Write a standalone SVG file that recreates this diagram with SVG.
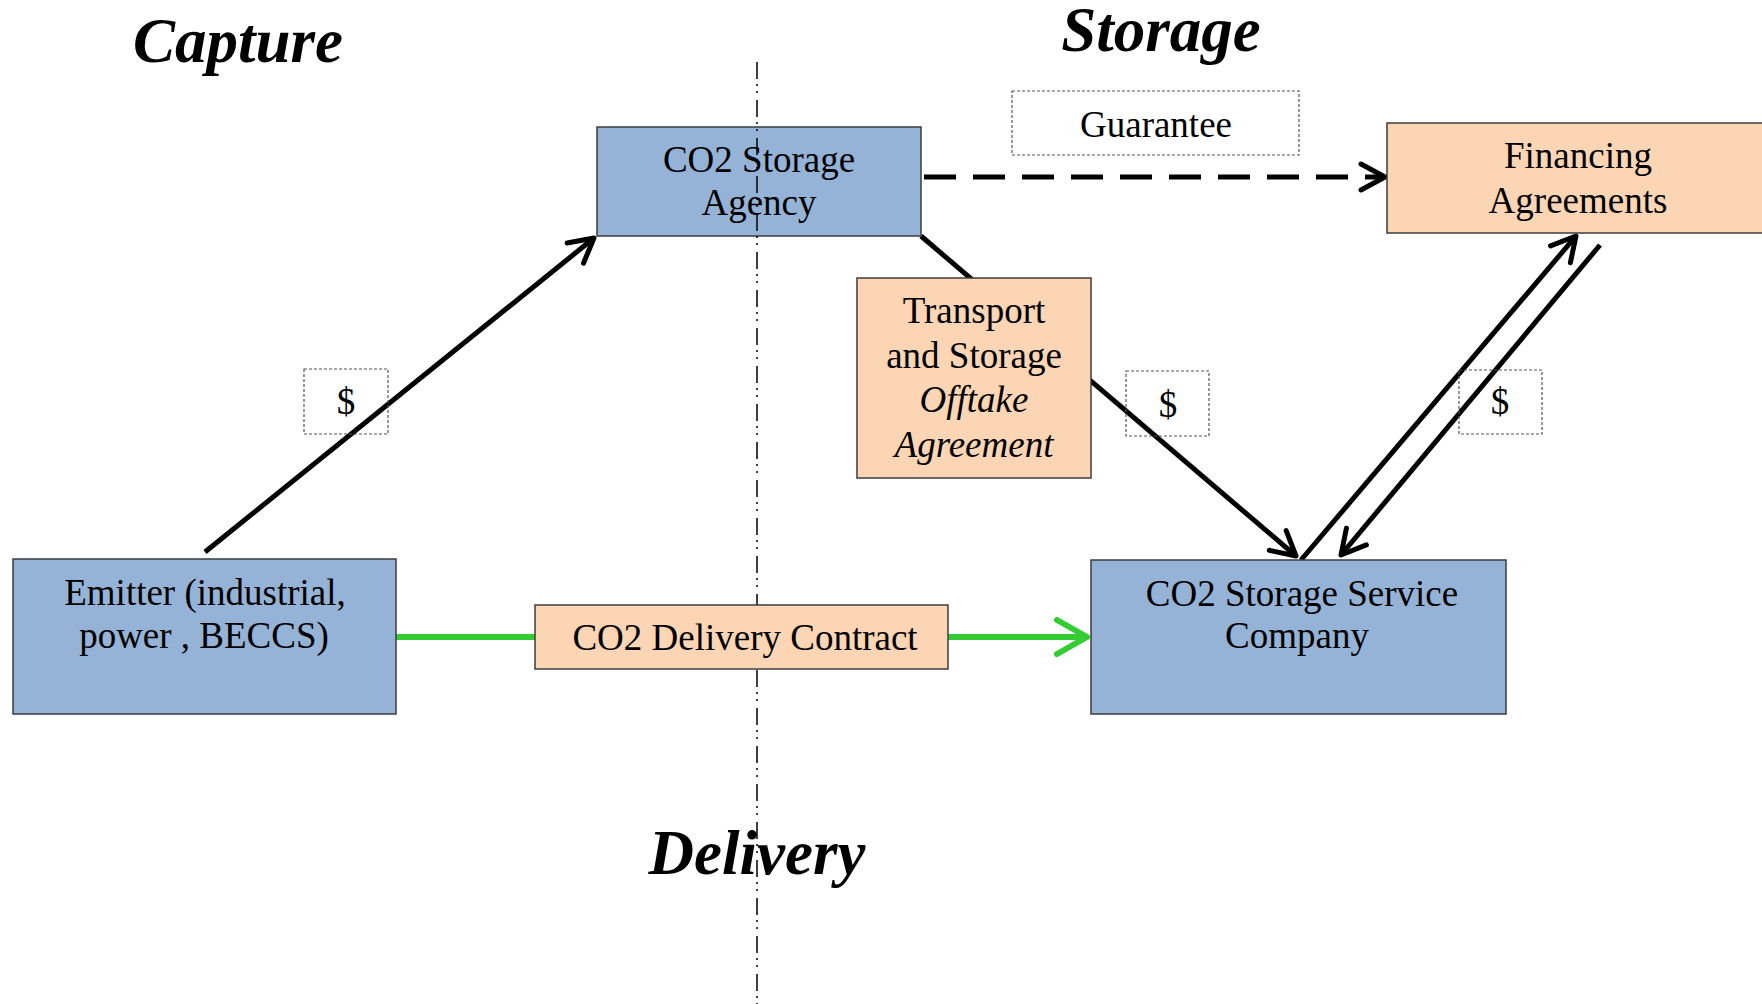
<svg xmlns="http://www.w3.org/2000/svg" width="1762" height="1004" viewBox="0 0 1762 1004">
<defs>
<style>
.t{font-family:"Liberation Serif","Times New Roman",serif;font-size:37px;fill:#000;text-anchor:middle}
.it{font-style:italic}
.title{font-family:"Liberation Serif","Times New Roman",serif;font-size:63px;font-weight:bold;font-style:italic;fill:#000;text-anchor:middle}
.blue{fill:#95B3D7;stroke:#3c3c3c;stroke-width:1.5}
.peach{fill:#FCD5B5;stroke:#3c3c3c;stroke-width:1.5}
.lbl{fill:none;stroke:#555;stroke-width:1.2;stroke-dasharray:3 2}
.blk{fill:none;stroke:#000;stroke-width:5}
.grn{fill:none;stroke:#33CC33;stroke-width:6}
.divider{fill:none;stroke:#000;stroke-width:1.5;stroke-dasharray:17 5 2 5 2 7}
</style>
<marker id="ah" markerUnits="userSpaceOnUse" markerWidth="40" markerHeight="40" refX="0" refY="0" viewBox="-30 -20 40 40" orient="auto" overflow="visible">
<path d="M-24 -13 L0 0 L-24 13" fill="none" stroke="#000" stroke-width="5" stroke-linecap="round" stroke-linejoin="round"/>
</marker>
<marker id="ahg" markerUnits="userSpaceOnUse" markerWidth="40" markerHeight="40" refX="0" refY="0" viewBox="-35 -20 40 40" orient="auto" overflow="visible">
<path d="M-30 -17 L0 0 L-30 17" fill="none" stroke="#33CC33" stroke-width="6" stroke-linecap="round" stroke-linejoin="round"/>
</marker>
</defs>
<rect width="1762" height="1004" fill="#fff"/>

<g id="title-capture"><text class="title" x="238" y="62">Capture</text></g>
<g id="title-storage"><text class="title" x="1161" y="51">Storage</text></g>

<g id="connectors">
<line class="blk" x1="205" y1="552" x2="594" y2="238" marker-end="url(#ah)"/>
<line class="blk" x1="921" y1="236" x2="1296" y2="556" marker-end="url(#ah)"/>
<line class="blk" x1="1301" y1="560" x2="1576" y2="236" marker-end="url(#ah)"/>
<line class="blk" x1="1600" y1="245" x2="1341" y2="555" marker-end="url(#ah)"/>
<line class="blk" x1="924" y1="177" x2="1385" y2="177" stroke-dasharray="32 17" marker-end="url(#ah)"/>
<line class="grn" x1="396" y1="637" x2="1087" y2="637" marker-end="url(#ahg)"/>
</g>

<g id="agency">
<rect class="blue" x="597" y="127" width="324" height="109"/>
<text class="t" x="759" y="172">CO2 Storage</text>
<text class="t" x="759" y="215">Agency</text>
</g>

<g id="divider"><line class="divider" x1="757" y1="62" x2="757" y2="1004"/></g>

<g id="title-delivery"><text class="title" x="757" y="874">Delivery</text></g>

<g id="guarantee">
<rect class="lbl" x="1012" y="91" width="287" height="64"/>
<text class="t" x="1156" y="137">Guarantee</text>
</g>

<g id="financing">
<rect class="peach" x="1387" y="123" width="385" height="110"/>
<text class="t" x="1578" y="168">Financing</text>
<text class="t" x="1578" y="213">Agreements</text>
</g>

<g id="transport">
<rect class="peach" x="857" y="278" width="234" height="200"/>
<text class="t" x="974" y="323">Transport</text>
<text class="t" x="974" y="368">and Storage</text>
<text class="t it" x="974" y="412">Offtake</text>
<text class="t it" x="974" y="457">Agreement</text>
</g>

<g id="dollar1">
<rect class="lbl" x="304" y="369" width="84" height="65"/>
<text class="t" x="346" y="414">$</text>
</g>
<g id="dollar2">
<rect class="lbl" x="1126" y="371" width="83" height="65"/>
<text class="t" x="1168" y="417">$</text>
</g>
<g id="dollar3">
<rect class="lbl" x="1459" y="370" width="83" height="64"/>
<text class="t" x="1500" y="414">$</text>
</g>

<g id="emitter">
<rect class="blue" x="13" y="559" width="383" height="155"/>
<text class="t" x="205" y="605">Emitter (industrial,</text>
<text class="t" x="204" y="648">power , BECCS)</text>
</g>

<g id="delivery-contract">
<rect class="peach" x="535" y="605" width="413" height="64"/>
<text class="t" x="745" y="650">CO2 Delivery Contract</text>
</g>

<g id="service-company">
<rect class="blue" x="1091" y="560" width="415" height="154"/>
<text class="t" x="1302" y="606">CO2 Storage Service</text>
<text class="t" x="1297" y="648">Company</text>
</g>
</svg>
